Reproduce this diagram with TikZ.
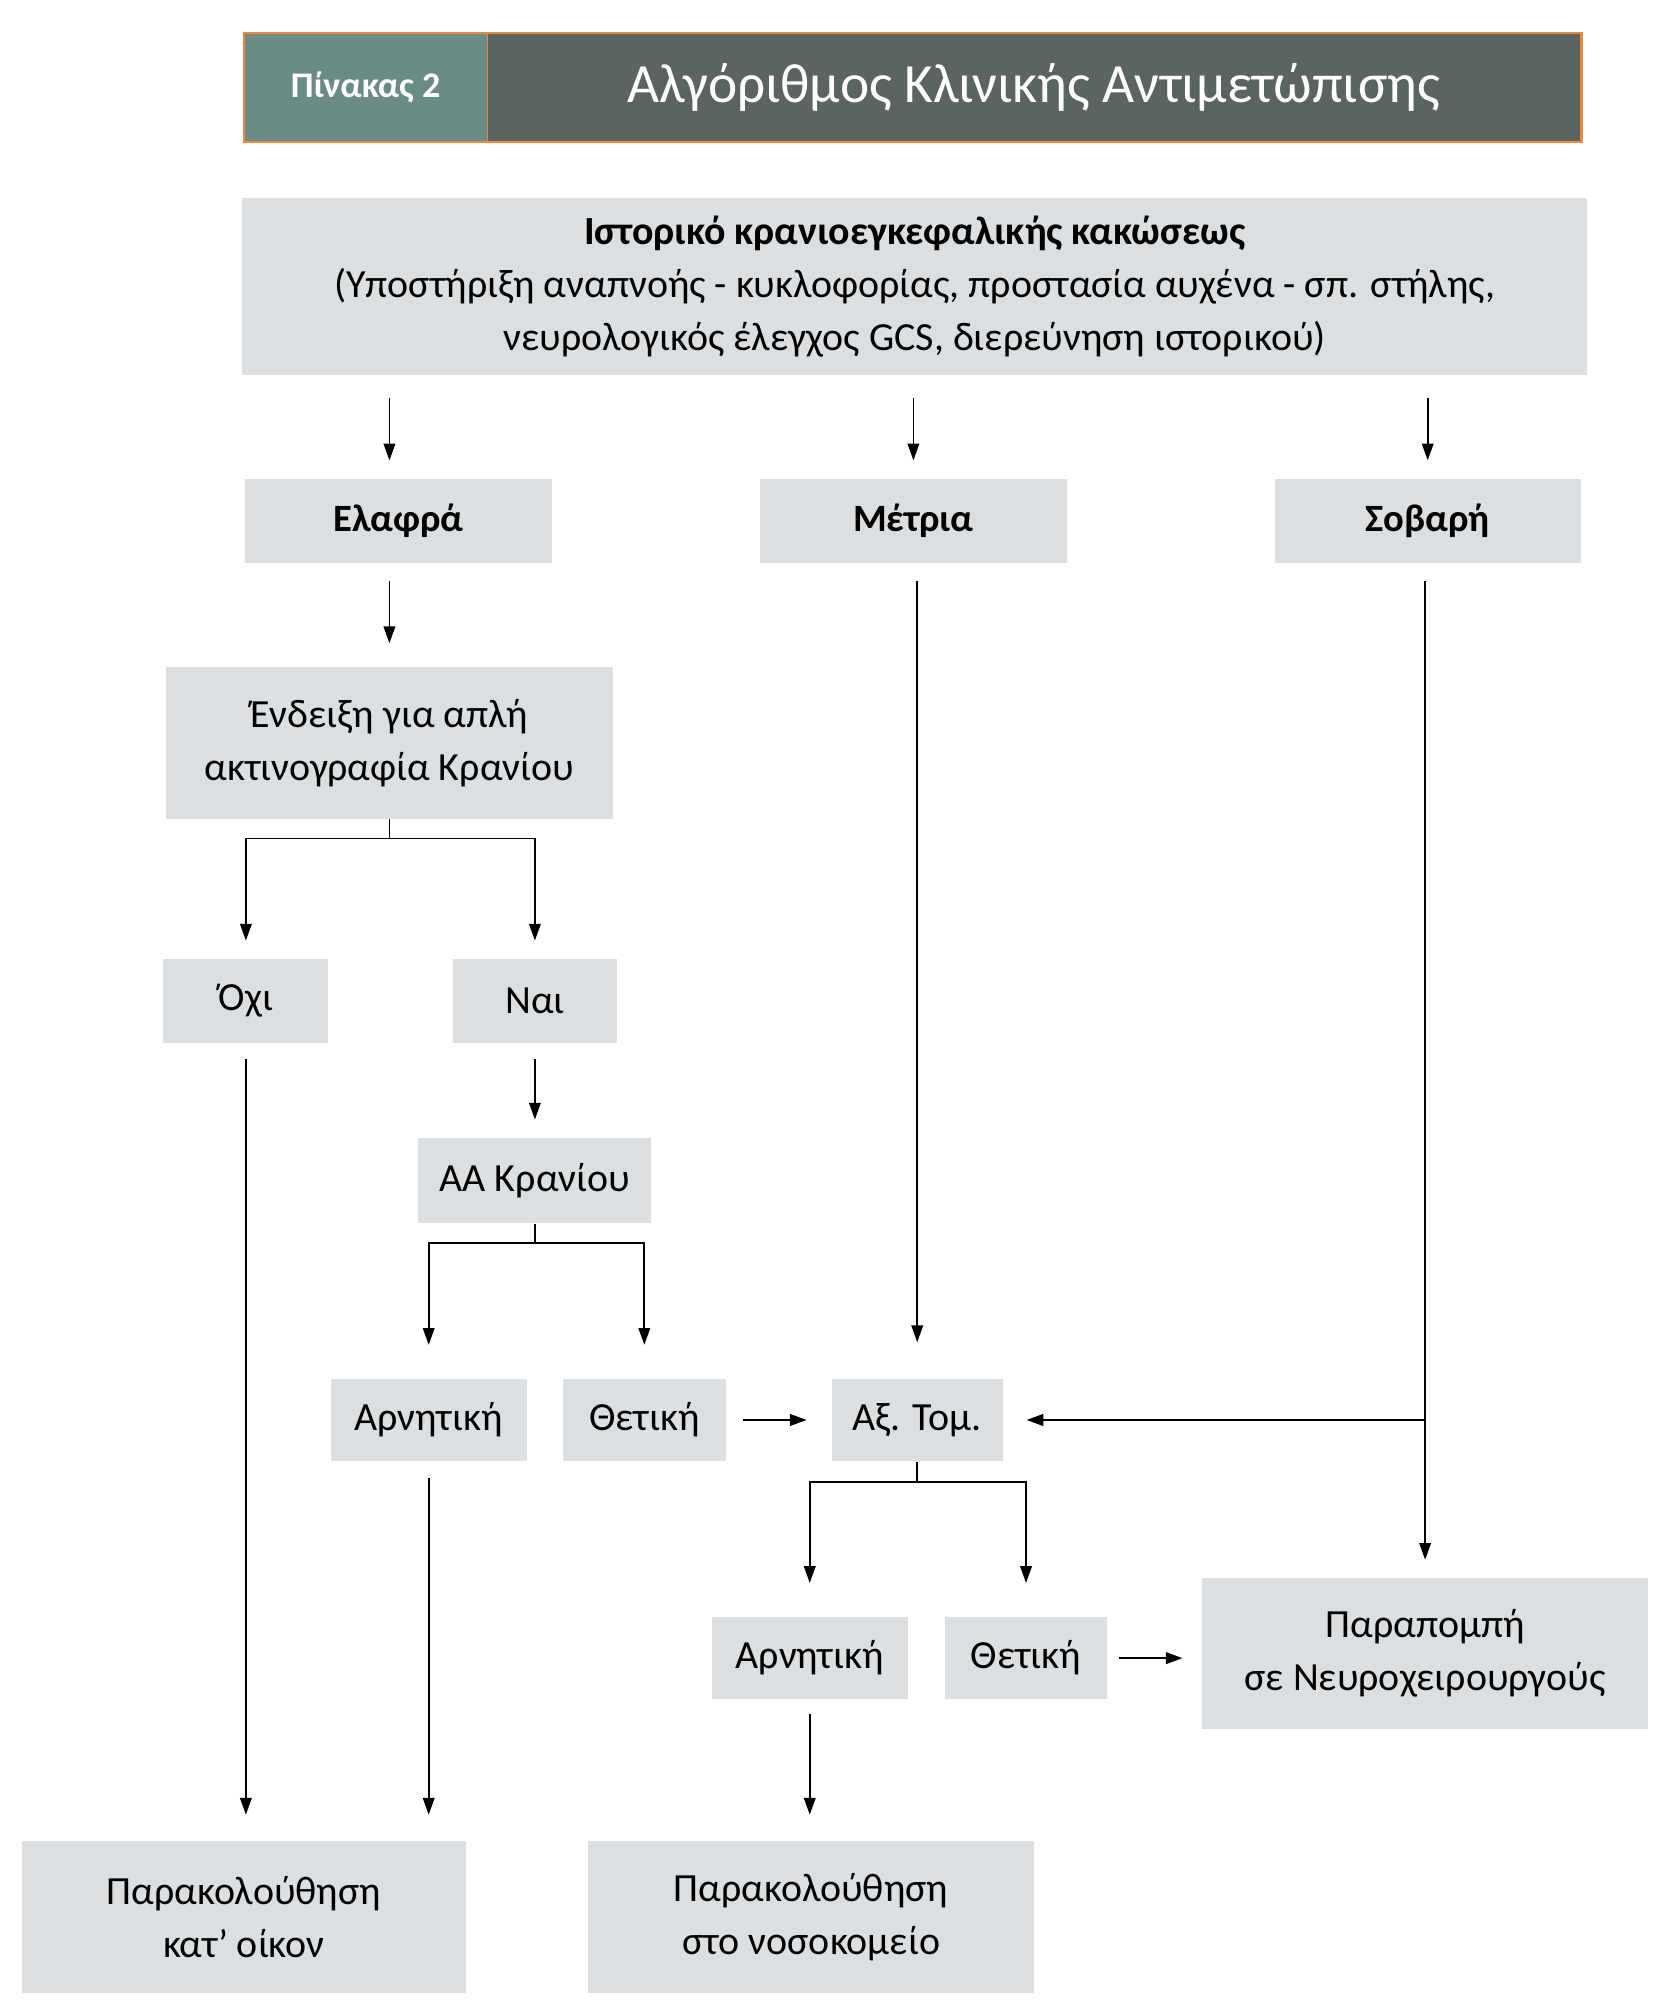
\documentclass[tikz,border=0pt]{standalone}
\usepackage{fontspec}
\setmainfont{Carlito}
\usetikzlibrary{arrows.meta}
\definecolor{boxgrey}{HTML}{DCDFE1}
\definecolor{hdrteal}{HTML}{6B8B86}
\definecolor{hdrdark}{HTML}{5B645F}
\definecolor{hdrorange}{HTML}{E98A3C}

\begin{document}
\begin{tikzpicture}[
      x=0.5pt, y=-0.5pt,
      box/.style={
        fill=boxgrey, draw=none, inner sep=0pt, align=center,
        font=\fontsize{15.5pt}{20.5pt}\selectfont
      },
      boldbox/.style={box, font=\fontsize{15pt}{20.5pt}\selectfont\bfseries},
      hdr/.style={inner sep=0pt, minimum height=42pt, text=white},
      flow/.style={->, line width=0.65pt},
      side/.style={->, line width=0.9pt},
      >={Triangle[length=6.5pt,width=4.5pt]}
      ]
  \useasboundingbox (0,0) rectangle (1300,1566);

  % Header
  \node[hdr, fill=hdrteal, minimum width=94pt,
        font=\fontsize{14pt}{16pt}\selectfont\bfseries] (tabno) at (284,68) {Πίνακας 2};
  \node[hdr, fill=hdrdark, minimum width=425pt,
        font=\fontsize{21.5pt}{24pt}\selectfont] (title) at (803,68) {Αλγόριθμος Κλινικής Αντιμετώπισης};
  \draw[hdrorange, line width=1pt] (tabno.north west) rectangle (title.south east);
  \draw[hdrorange, line width=0.5pt] (tabno.north east) -- (tabno.south east);

  % Define nodes
  \node[box, minimum width=522.5pt, minimum height=68.5pt] (top) at (710.5,222.5)
    {\textbf{Ιστορικό κρανιοεγκεφαλικής κακώσεως}\\
     (Υποστήριξη αναπνοής - κυκλοφορίας, προστασία αυχένα - σπ. στήλης,\\
     νευρολογικός έλεγχος GCS, διερεύνηση ιστορικού)};

  \node[boldbox, minimum width=119.5pt, minimum height=32.5pt] (mild)     at (309.5,404.5) {Ελαφρά};
  \node[boldbox, minimum width=119.5pt, minimum height=32.5pt] (moderate) at (709.5,404.5) {Μέτρια};
  \node[boldbox, minimum width=119pt,   minimum height=32.5pt] (severe)   at (1109,404.5)  {Σοβαρή};

  \node[box, minimum width=173.5pt, minimum height=59pt] (xray) at (302.5,577)
    {Ένδειξη για απλή\\ακτινογραφία Κρανίου};

  \node[box, minimum width=64pt,   minimum height=32.5pt] (no)  at (191,777.5)   {Όχι};
  \node[box, minimum width=63.5pt, minimum height=32.5pt] (yes) at (415.5,777.5) {Ναι};

  \node[box, minimum width=90.5pt, minimum height=33pt] (ct1) at (415.5,917) {ΑΑ Κρανίου};

  \node[box, minimum width=76pt,   minimum height=32pt] (neg1) at (333,1103)   {Αρνητική};
  \node[box, minimum width=63.5pt, minimum height=32pt] (pos1) at (500.5,1103) {Θετική};
  \node[box, minimum width=66.5pt, minimum height=32pt] (ct)   at (712.5,1103) {Αξ. Τομ.};

  \node[box, minimum width=76pt,   minimum height=32pt] (neg2) at (629,1288) {Αρνητική};
  \node[box, minimum width=63pt,   minimum height=32pt] (pos2) at (797,1288) {Θετική};
  \node[box, minimum width=173pt, minimum height=58.5pt] (refer) at (1107,1284.5)
    {Παραπομπή\\σε Νευροχειρουργούς};

  \node[box, minimum width=172.5pt, minimum height=59pt] (home) at (189.5,1489)
    {Παρακολούθηση\\κατ’ οίκον};
  \node[box, minimum width=173pt,   minimum height=59pt] (hosp) at (630,1489)
    {Παρακολούθηση\\στο νοσοκομείο};

  % Connect the nodes
  \foreach \c/\n in {xray/mild, moderate/moderate, severe/severe}
    \draw[flow, shorten <=9pt, shorten >=7pt] (top.south -| \c) -- (\n.north -| \c);

  \draw[flow, shorten <=7pt, shorten >=9pt] (mild.south -| xray) -- (xray.north);

  \coordinate (xsplit) at ([yshift=-7.5pt]xray.south);
  \draw[line width=0.65pt] (xray.south) -- (xsplit);
  \draw[flow, shorten >=7pt] (xsplit) -| (no.north);
  \draw[flow, shorten >=7pt] (xsplit) -| (yes.north);

  \draw[flow, shorten <=6pt, shorten >=7pt] (yes.south) -- (ct1.north);

  \coordinate (asplit) at ([yshift=-7.5pt]ct1.south);
  \draw[line width=0.65pt] (ct1.south) -- (asplit);
  \draw[flow, shorten >=13pt] (asplit) -| (neg1.north);
  \draw[flow, shorten >=13pt] (asplit) -| (pos1.north);

  \draw[flow, shorten <=7pt, shorten >=14pt] (moderate.south -| ct) -- (ct.north);

  \draw[flow, shorten <=7pt, shorten >=7pt] (severe.south -| refer) -- (refer.north);
  \coordinate (sjoin) at (refer |- ct);
  \draw[side, shorten >=9pt] (sjoin) -- (ct.east);

  \draw[side, shorten <=6.5pt, shorten >=9.5pt] (pos1.east) -- (ct.west);

  \coordinate (tsplit) at ([yshift=-8pt]ct.south);
  \draw[line width=0.65pt] (ct.south) -- (tsplit);
  \draw[flow, shorten >=13pt] (tsplit) -| (neg2.north);
  \draw[flow, shorten >=13pt] (tsplit) -| (pos2.north);

  \draw[side, shorten <=4.5pt, shorten >=7.5pt] (pos2.east) -- (pos2 -| refer.west);

  \draw[flow, shorten <=6pt, shorten >=10pt] (no.south) -- (no.south |- home.north);
  \draw[flow, shorten <=6.5pt, shorten >=10pt] (neg1.south) -- (neg1.south |- home.north);
  \draw[flow, shorten <=5.5pt, shorten >=10pt] (neg2.south) -- (neg2.south |- hosp.north);

\end{tikzpicture}
\end{document}
